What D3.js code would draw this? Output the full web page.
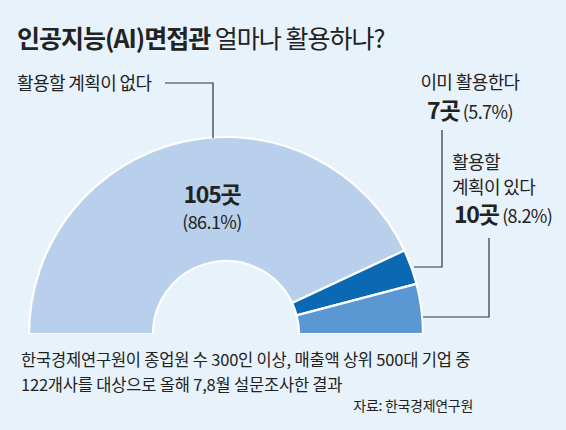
<!DOCTYPE html>
<html><head><meta charset="utf-8">
<script src="https://cdn.jsdelivr.net/npm/d3@7"></script>
<style>
html,body{margin:0;padding:0;background:#e7f2fb;}
svg{display:block;}
text{font-family:"Noto Sans CJK KR","Noto Sans",sans-serif;fill:#222;}
</style></head>
<body>
<script>
const categories = ["활용할 계획이 없다", "이미 활용한다", "활용할 계획이 있다"];
const counts = [105, 7, 10];
const percents = ["86.1%", "5.7%", "8.2%"];
const colors = ["#b8d0eb", "#0b69b3", "#5a97d3"];

const W = 566, H = 430;
const svg = d3.select("body").append("svg").attr("width", W).attr("height", H);
svg.append("rect").attr("width", W).attr("height", H).attr("fill", "#e7f2fb");

// title
const title = svg.append("text").attr("x", 17).attr("y", 48)
  .attr("font-size", 25).attr("letter-spacing", -1);
title.append("tspan").attr("font-weight", 700).text("인공지능(AI)면접관");
title.append("tspan").attr("font-weight", 400).text(" 얼마나 활용하나?");

// donut
const cx = 226, cy = 334, rOuter = 197, rInner = 73;
const pie = d3.pie().sort(null).startAngle(-Math.PI / 2).endAngle(Math.PI / 2);
const arc = d3.arc().innerRadius(rInner).outerRadius(rOuter);
const g = svg.append("g").attr("transform", `translate(${cx},${cy})`);
g.selectAll("path").data(pie(counts)).join("path")
  .attr("d", arc)
  .attr("fill", (d, i) => colors[i])
  .attr("stroke", "#ffffff").attr("stroke-width", 2.2).attr("stroke-linejoin", "round");
svg.append("rect").attr("x", 0).attr("y", cy).attr("width", W).attr("height", 3).attr("fill", "#e7f2fb");

const lineC = "#333";
svg.append("path").attr("d", "M165,83 H213 V138").attr("fill", "none").attr("stroke", lineC).attr("stroke-width", 1.2);
svg.append("path").attr("d", "M442,130 V267 H414").attr("fill", "none").attr("stroke", lineC).attr("stroke-width", 1.2);
svg.append("path").attr("d", "M489,238 V317 H423").attr("fill", "none").attr("stroke", lineC).attr("stroke-width", 1.2);

const REG = 18, REGLS = -0.6, BOLD = 23, BOLDLS = -1.2;

// label 1
svg.append("text").attr("x", 17).attr("y", 90).attr("font-size", REG).attr("letter-spacing", REGLS)
  .text(categories[0]);
svg.append("text").attr("x", 212).attr("y", 203).attr("text-anchor", "middle")
  .attr("font-size", BOLD).attr("font-weight", 700).attr("letter-spacing", BOLDLS).text(counts[0] + "곳");
svg.append("text").attr("x", 212).attr("y", 229).attr("text-anchor", "middle")
  .attr("font-size", REG).attr("letter-spacing", REGLS).text("(" + percents[0] + ")");

// label 2
svg.append("text").attr("x", 470).attr("y", 89).attr("text-anchor", "middle")
  .attr("font-size", REG).attr("letter-spacing", REGLS).text(categories[1]);
const l2 = svg.append("text").attr("x", 470).attr("y", 119).attr("text-anchor", "middle");
l2.append("tspan").attr("font-size", BOLD).attr("font-weight", 700).attr("letter-spacing", BOLDLS).text(counts[1] + "곳");
l2.append("tspan").attr("font-size", REG).attr("letter-spacing", REGLS).text(" (" + percents[1] + ")");

// label 3
const parts3 = categories[2].split(" ");
svg.append("text").attr("x", 452).attr("y", 169).attr("font-size", REG).attr("letter-spacing", REGLS).text(parts3[0]);
svg.append("text").attr("x", 452).attr("y", 194).attr("font-size", REG).attr("letter-spacing", REGLS).text(parts3.slice(1).join(" "));
const l3 = svg.append("text").attr("x", 454).attr("y", 223);
l3.append("tspan").attr("font-size", BOLD).attr("font-weight", 700).attr("letter-spacing", BOLDLS).text(counts[2] + "곳");
l3.append("tspan").attr("font-size", REG).attr("letter-spacing", REGLS).text(" (" + percents[2] + ")");

// footnote
svg.append("text").attr("x", 21).attr("y", 366).attr("font-size", 16.5).attr("letter-spacing", -0.2)
  .text("한국경제연구원이 종업원 수 300인 이상, 매출액 상위 500대 기업 중");
svg.append("text").attr("x", 21).attr("y", 391).attr("font-size", 16.5).attr("letter-spacing", -0.2)
  .text("122개사를 대상으로 올해 7,8월 설문조사한 결과");
svg.append("text").attr("x", 473).attr("y", 411).attr("text-anchor", "end").attr("font-size", 14).attr("letter-spacing", -0.3)
  .text("자료: 한국경제연구원");
</script>
</body></html>
